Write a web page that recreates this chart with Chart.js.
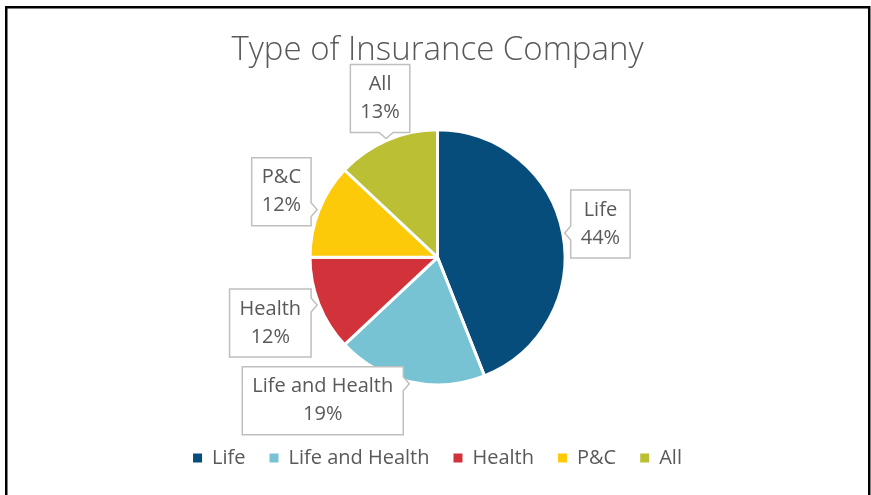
<!DOCTYPE html>
<html>
<head>
<meta charset="utf-8">
<script src="https://cdn.jsdelivr.net/npm/chart.js@4/dist/chart.umd.min.js"></script>
<style>
  html, body { margin: 0; padding: 0; background: #fff; }
  #wrap { width: 871px; height: 495px; }
</style>
</head>
<body>
<div id="wrap"><canvas id="chart"></canvas></div>
<script>
const categories = ['Life', 'Life and Health', 'Health', 'P&C', 'All'];
const shares = [44, 19, 12, 12, 13];
const colors = ['#064D7B', '#78C3D3', '#D2323A', '#FCCA09', '#BBBF33'];

// where each data label box sits relative to its slice:
// side of the box that carries the pointer, and shift of the box along that side
const calloutSide = ['left', 'right', 'right', 'right', 'bottom'];
const calloutShift = [-9, 17, 18, -18, -6];

const textColor = '#595959';
const fontFamily = "'Open Sans', 'DejaVu Sans', sans-serif";

// Excel-style callout boxes
const calloutPlugin = {
  id: 'callouts',
  afterDatasetsDraw(chart) {
    const ctx = chart.ctx;
    const meta = chart.getDatasetMeta(0);
    const lineH = 28, padX = 10, boxH = 68, gap = 6, half = 7;
    ctx.save();
    ctx.font = '20px ' + fontFamily;
    meta.data.forEach((arc, i) => {
      const p = arc.getProps(['x', 'y', 'startAngle', 'endAngle', 'outerRadius']);
      const mid = (p.startAngle + p.endAngle) / 2;
      const r = p.outerRadius + 2;
      const tx = p.x + Math.cos(mid) * r;
      const ty = p.y + Math.sin(mid) * r;
      const lines = [categories[i], shares[i] + '%'];
      const w = Math.max(...lines.map(l => ctx.measureText(l).width)) + padX * 2;
      const h = boxH;
      const side = calloutSide[i];
      let bx, by;
      if (side === 'left') { bx = tx + gap; by = ty + calloutShift[i] - h / 2; }
      else if (side === 'right') { bx = tx - gap - w; by = ty + calloutShift[i] - h / 2; }
      else { bx = tx + calloutShift[i] - w / 2; by = ty - gap - h; }

      ctx.beginPath();
      ctx.moveTo(bx, by);
      ctx.lineTo(bx + w, by);
      if (side === 'right') {
        const c = Math.min(Math.max(ty, by + half + 2), by + h - half - 2);
        ctx.lineTo(bx + w, c - half);
        ctx.lineTo(tx, ty);
        ctx.lineTo(bx + w, c + half);
      }
      ctx.lineTo(bx + w, by + h);
      if (side === 'bottom') {
        const c = Math.min(Math.max(tx, bx + half + 2), bx + w - half - 2);
        ctx.lineTo(c + half, by + h);
        ctx.lineTo(tx, ty);
        ctx.lineTo(c - half, by + h);
      }
      ctx.lineTo(bx, by + h);
      if (side === 'left') {
        const c = Math.min(Math.max(ty, by + half + 2), by + h - half - 2);
        ctx.lineTo(bx, c + half);
        ctx.lineTo(tx, ty);
        ctx.lineTo(bx, c - half);
      }
      ctx.closePath();
      ctx.fillStyle = '#ffffff';
      ctx.fill();
      ctx.lineWidth = 1.5;
      ctx.strokeStyle = '#BFBFBF';
      ctx.stroke();

      ctx.fillStyle = textColor;
      ctx.textAlign = 'center';
      ctx.textBaseline = 'middle';
      const cx = bx + w / 2, cy = by + h / 2;
      ctx.fillText(lines[0], cx, cy - lineH / 2);
      ctx.fillText(lines[1], cx, cy + lineH / 2);
    });
    ctx.restore();
  }
};

// black outer frame
const framePlugin = {
  id: 'frame',
  afterDraw(chart) {
    const ctx = chart.ctx;
    ctx.save();
    ctx.strokeStyle = '#000000';
    ctx.lineWidth = 2.5;
    ctx.strokeRect(6.25, 7.25, 863, 500);
    ctx.restore();
  }
};

Chart.defaults.font.family = fontFamily;
Chart.defaults.color = textColor;

new Chart(document.getElementById('chart'), {
  type: 'pie',
  data: {
    labels: categories,
    datasets: [{
      data: shares,
      backgroundColor: colors,
      borderColor: '#ffffff',
      borderWidth: 3
    }]
  },
  options: {
    responsive: true,
    maintainAspectRatio: false,
    animation: false,
    radius: 127.5,
    layout: { padding: { top: 0, left: 4, right: 0, bottom: 17 } },
    plugins: {
      title: {
        display: true,
        text: 'Type of Insurance Company',
        color: textColor,
        font: { size: 33, weight: '300' },
        padding: { top: 31, bottom: 20 }
      },
      legend: {
        position: 'bottom',
        labels: {
          color: textColor,
          font: { size: 20 },
          boxWidth: 9,
          boxHeight: 9,
          padding: 24,
          generateLabels: (chart) =>
            Chart.overrides.pie.plugins.legend.labels.generateLabels(chart)
              .map(l => ({ ...l, lineWidth: 0, strokeStyle: 'rgba(0,0,0,0)' }))
        }
      },
      tooltip: { enabled: false }
    }
  },
  plugins: [calloutPlugin, framePlugin]
});
</script>
</body>
</html>
